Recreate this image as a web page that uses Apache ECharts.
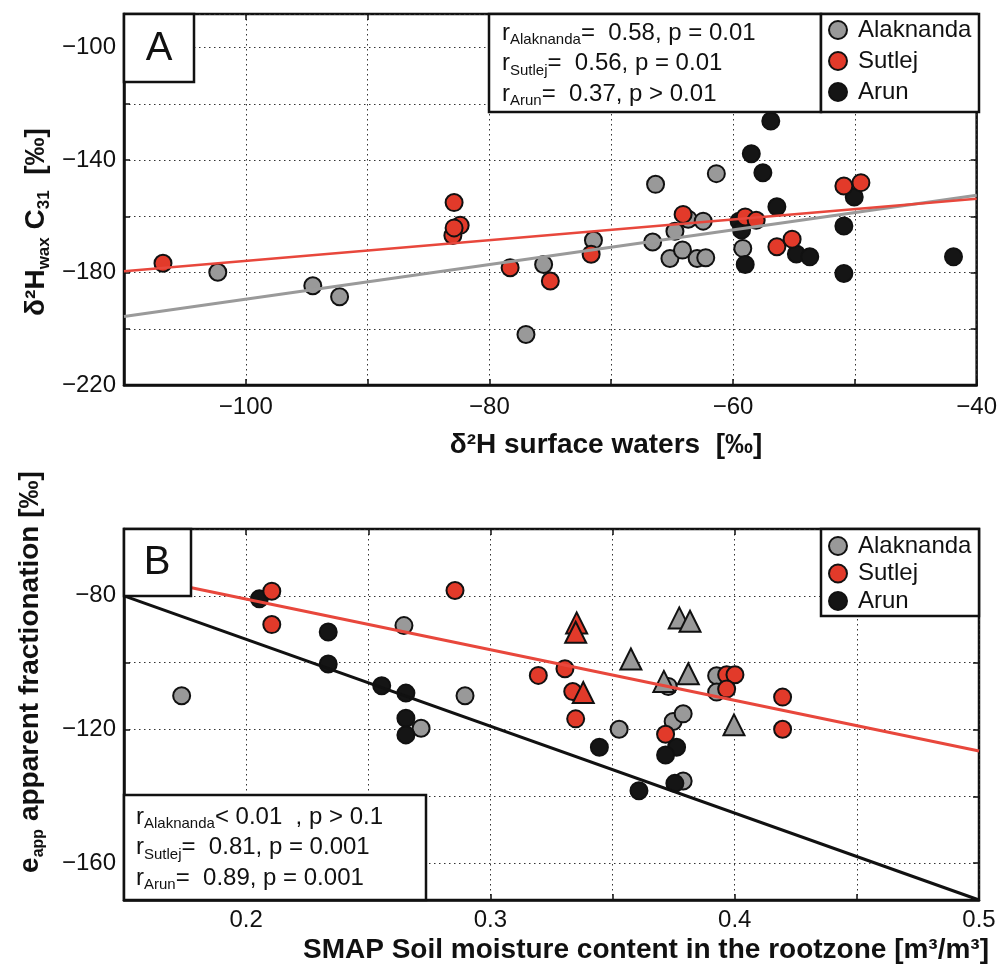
<!DOCTYPE html>
<html>
<head>
<meta charset="utf-8">
<script src="https://cdn.jsdelivr.net/npm/echarts@6/dist/echarts.min.js"></script>
<style>html,body{margin:0;padding:0;background:#fff;}#c{width:1000px;height:971px;}</style>
</head>
<body>
<div id="c"></div>
<script>
// ---------- Panel A data: δ2H surface waters (x) vs δ2H wax C31 (y) ----------
const alakA = [[-102.3,-179.9],[-94.5,-184.7],[-92.3,-188.6],[-77.0,-202.0],[-75.55,-177.1],[-71.46,-168.5],[-66.36,-148.6],[-66.6,-169.1],[-64.77,-165.3],[-65.18,-175.0],[-64.15,-172.0],[-63.68,-161.0],[-62.45,-161.7],[-62.95,-175.0],[-62.24,-174.7],[-61.37,-144.8],[-59.2,-171.4]];
const arunA = [[-56.9,-126.1],[-58.5,-137.7],[-57.55,-144.5],[-56.4,-156.6],[-59.5,-161.7],[-59.3,-164.9],[-59.0,-177.1],[-54.8,-173.4],[-53.7,-174.4],[-50.05,-153.1],[-50.9,-163.4],[-50.9,-180.3],[-41.9,-174.4]];
const sutA = [[-106.8,-176.7],[-82.9,-155.1],[-82.4,-163.2],[-83.0,-166.8],[-82.9,-164.1],[-78.3,-178.3],[-75.0,-183.0],[-71.65,-173.5],[-64.1,-159.3],[-59.0,-160.2],[-58.1,-161.4],[-56.4,-170.8],[-55.15,-168.1],[-50.9,-149.2],[-49.5,-148.0]];
const fitAlakA = [[-110,-195.6],[-40,-152.5]];
const fitSutA = [[-110,-179.5],[-40,-153.7]];

// ---------- Panel B data: SMAP soil moisture (x) vs e_app (y) ----------
const alakB = [[0.1736,-109.9],[0.2646,-88.9],[0.2716,-119.6],[0.2896,-109.9],[0.3527,-119.9],[0.3728,-107.1],[0.3748,-117.6],[0.3789,-115.3],[0.3789,-135.4],[0.3926,-103.9],[0.3926,-108.8]];
const alakBTri = [[0.3575,-98.9],[0.3773,-86.6],[0.3817,-87.6],[0.371,-105.6],[0.381,-103.3],[0.3997,-118.6]];
const arunB = [[0.2054,-80.9],[0.2336,-90.8],[0.2336,-100.4],[0.2555,-106.9],[0.2654,-109.1],[0.2654,-116.6],[0.2654,-121.6],[0.3446,-125.3],[0.3608,-138.3],[0.3762,-125.3],[0.3717,-127.6],[0.3755,-136.1]];
const sutB = [[0.2105,-78.6],[0.2105,-88.6],[0.2855,-78.4],[0.3196,-103.8],[0.3305,-101.8],[0.3337,-108.6],[0.3349,-116.8],[0.3717,-121.4],[0.3967,-103.6],[0.4001,-103.6],[0.3967,-107.9],[0.4196,-110.3],[0.4196,-119.9]];
const sutBTri = [[0.3353,-88.1],[0.3349,-90.9],[0.338,-108.9]];
const fitSutB = [[0.15,-73.4],[0.5,-126.4]];
const fitArunB = [[0.15,-80],[0.5,-171]];

// ---------- Axis ranges / labels ----------
const xA = {min:-110, max:-40, interval:10};
const yA = {min:-220, max:-88, interval:20};
const xB = {min:0.15, max:0.5, interval:0.05};
const yB = {min:-171, max:-60};

const statsA = [['Alaknanda','=  0.58, p = 0.01'],['Sutlej','=  0.56, p = 0.01'],['Arun','=  0.37, p > 0.01']];
const statsB = [['Alaknanda','< 0.01  , p > 0.1'],['Sutlej','=  0.81, p = 0.001'],['Arun','=  0.89, p = 0.001']];
const names = ['Alaknanda','Sutlej','Arun'];

const FONT = "'Liberation Sans', Arial, Helvetica, sans-serif";
const C_GRAY = '#999999', C_RED = '#e23a2a', C_BLACK = '#151515', C_EDGE = '#111111';
const minus = v => String(v).replace('-', '\u2212');

const chart = echarts.init(document.getElementById('c'), null, {renderer:'canvas'});

const splitLine = {show:true, lineStyle:{color:'#333', width:1, type:[1.5,3.5]}};
const tick = {show:true, inside:true, length:6, lineStyle:{color:'#111', width:1.5}};
const labelStyle = {fontSize:24, fontFamily:FONT, color:'#111'};

function mainX(grid, r, fmt, margin){
  return Object.assign({type:'value', gridIndex:grid, position:'bottom',
    axisLine:{show:true, onZero:false, lineStyle:{color:'#111', width:2.5}},
    axisTick:tick, splitLine:splitLine,
    axisLabel:Object.assign({formatter:fmt, margin:margin, showMinLabel:true, showMaxLabel:true}, labelStyle)}, r);
}
function mainY(grid, r, fmt){
  return Object.assign({type:'value', gridIndex:grid, position:'left',
    axisLine:{show:true, onZero:false, lineStyle:{color:'#111', width:2.5}},
    axisTick:tick, splitLine:splitLine,
    axisLabel:Object.assign({formatter:fmt, margin:8, showMinLabel:true, showMaxLabel:true}, labelStyle)}, r);
}
function secX(grid, r){
  return Object.assign({type:'value', gridIndex:grid, position:'top', axisLine:{show:false, onZero:false},
    axisTick:tick, splitLine:{show:false}, axisLabel:{show:false}}, r);
}
function secY(grid, r){
  return Object.assign({type:'value', gridIndex:grid, position:'right', axisLine:{show:false, onZero:false},
    axisTick:tick, splitLine:{show:false}, axisLabel:{show:false}}, r);
}

const fmtXA = v => (Math.round(v) % 20 === 0 ? minus(Math.round(v)) : '');
const fmtYA = v => ((Math.round(v) + 220) % 40 === 0 && Math.abs(v - Math.round(v)) < 1e-6 ? minus(Math.round(v)) : '');
const fmtXB = v => { const k = Math.round(v*100); return (k % 10 === 0 && k > 15) ? (k/100).toFixed(1) : ''; };
const fmtYB = v => (Math.abs(v - Math.round(v)) < 1e-6 && Math.round(v) % 40 === 0 ? minus(Math.round(v)) : '');

function scatter(name, data, color, xi, yi, symbol, size){
  return {type:'scatter', name:name, xAxisIndex:xi, yAxisIndex:yi, data:data,
    symbol:symbol || 'circle', symbolSize:size || 17,
    itemStyle:{color:color, borderColor:C_EDGE, borderWidth:2, opacity:1}, z:2, silent:true};
}
function fit(name, data, color, width, xi, yi){
  return {type:'line', name:name, xAxisIndex:xi, yAxisIndex:yi, data:data, symbol:'none',
    lineStyle:{color:color, width:width}, z:4, silent:true, animation:false};
}

function statsText(rows){
  return rows.map(r => '{r|r}{s|' + r[0] + '}{r|' + r[1] + '}').join('\n');
}
const statRich = {
  r:{fontSize:24, lineHeight:30.5, fontFamily:FONT, fill:'#111'},
  s:{fontSize:15, lineHeight:15, verticalAlign:'bottom', fontFamily:FONT, fill:'#111', padding:[0,0,1,0]}
};

const option = {
  animation:false,
  backgroundColor:'#fff',
  grid:[
    {left:124, top:14, right:21, bottom:586, show:true, borderColor:'#111', borderWidth:2.5, backgroundColor:'#fff'},
    {left:124, top:529, right:21, bottom:71, show:true, borderColor:'#111', borderWidth:2.5, backgroundColor:'#fff'}
  ],
  xAxis:[
    mainX(0, xA, fmtXA, 10), secX(0, xA),
    mainX(1, xB, fmtXB, 8), secX(1, xB)
  ],
  yAxis:[
    mainY(0, yA, fmtYA), secY(0, yA),
    mainY(1, Object.assign({splitNumber:5}, yB), fmtYB), secY(1, Object.assign({splitNumber:5}, yB))
  ],
  legend:[
    {data:names, orient:'vertical', left:823, top:13, itemWidth:18, itemHeight:18, itemGap:7, icon:'circle',
     textStyle:{fontSize:24, fontFamily:FONT, color:'#111', lineHeight:24, padding:[0,0,0,6]}, z:20, selectedMode:false},
    {data:names, orient:'vertical', left:823, top:529, itemWidth:18, itemHeight:18, itemGap:3.5, icon:'circle',
     textStyle:{fontSize:24, fontFamily:FONT, color:'#111', lineHeight:24, padding:[0,0,0,6]}, z:20, selectedMode:false}
  ],
  series:[
    scatter('Alaknanda', alakA, C_GRAY, 0, 0),
    scatter('Arun', arunA, C_BLACK, 0, 0),
    scatter('Sutlej', sutA, C_RED, 0, 0),
    fit('fitAlakA', fitAlakA, '#9a9a9a', 3, 0, 0),
    fit('fitSutA', fitSutA, '#e8473c', 2.5, 0, 0),
    scatter('Alaknanda', alakB, C_GRAY, 2, 2),
    scatter('Arun', arunB, C_BLACK, 2, 2),
    scatter('Sutlej', sutB, C_RED, 2, 2),
    scatter('Alaknanda tri', alakBTri, C_GRAY, 2, 2, 'triangle', 21),
    scatter('Sutlej tri', sutBTri, C_RED, 2, 2, 'triangle', 21),
    fit('fitSutB', fitSutB, '#e8473c', 3, 2, 2),
    fit('fitArunB', fitArunB, '#111', 3, 2, 2)
  ],
  graphic:[
    // Panel A label box
    {type:'rect', z:10, shape:{x:124, y:14, width:70, height:68}, style:{fill:'#fff', stroke:'#111', lineWidth:2.5}},
    {type:'text', z:11, x:159, y:49, style:{text:'A', font:'40px ' + FONT, fill:'#111', align:'center', verticalAlign:'middle'}},
    // Panel A stats box
    {type:'rect', z:10, shape:{x:489, y:14, width:332, height:98}, style:{fill:'#fff', stroke:'#111', lineWidth:2.5}},
    {type:'text', z:11, x:502, y:18, style:{text:statsText(statsA), rich:statRich, align:'left', verticalAlign:'top'}},
    // Panel A legend box
    {type:'rect', z:10, shape:{x:821, y:14, width:158, height:98}, style:{fill:'#fff', stroke:'#111', lineWidth:2.5}},
    // Panel B label box
    {type:'rect', z:10, shape:{x:124, y:529, width:67, height:67}, style:{fill:'#fff', stroke:'#111', lineWidth:2.5}},
    {type:'text', z:11, x:157, y:563, style:{text:'B', font:'40px ' + FONT, fill:'#111', align:'center', verticalAlign:'middle'}},
    // Panel B stats box
    {type:'rect', z:10, shape:{x:124, y:795, width:302, height:105}, style:{fill:'#fff', stroke:'#111', lineWidth:2.5}},
    {type:'text', z:11, x:136, y:802, style:{text:statsText(statsB), rich:statRich, align:'left', verticalAlign:'top'}},
    // Panel B legend box
    {type:'rect', z:10, shape:{x:821, y:529, width:158, height:87}, style:{fill:'#fff', stroke:'#111', lineWidth:2.5}},
    // Axis titles
    {type:'text', z:11, x:606, y:445, style:{text:'\u03b4\u00b2H surface waters  [\u2030]', font:'bold 28px ' + FONT, fill:'#111', align:'center', verticalAlign:'middle'}},
    {type:'text', z:11, x:646, y:950, style:{text:'SMAP Soil moisture content in the rootzone [m\u00b3/m\u00b3]', font:'bold 28px ' + FONT, fill:'#111', align:'center', verticalAlign:'middle'}},
    {type:'text', z:11, x:36, y:222, rotation:Math.PI/2,
     style:{text:'{b|\u03b4\u00b2H}{s|wax}{b| C}{s|31}{b|  [\u2030]}', align:'center', verticalAlign:'middle',
       rich:{b:{fontSize:28, fontWeight:'bold', fontFamily:FONT, lineHeight:34, fill:'#111'},
             s:{fontSize:17, fontWeight:'bold', fontFamily:FONT, lineHeight:17, verticalAlign:'bottom', fill:'#111'}}}},
    {type:'text', z:11, x:30, y:672, rotation:Math.PI/2,
     style:{text:'{b|e}{s|app}{b| apparent fractionation [\u2030]}', align:'center', verticalAlign:'middle',
       rich:{b:{fontSize:28, fontWeight:'bold', fontFamily:FONT, lineHeight:34, fill:'#111'},
             s:{fontSize:16, fontWeight:'bold', fontFamily:FONT, lineHeight:16, verticalAlign:'bottom', fill:'#111'}}}}
  ]
};
chart.setOption(option);
</script>
</body>
</html>
